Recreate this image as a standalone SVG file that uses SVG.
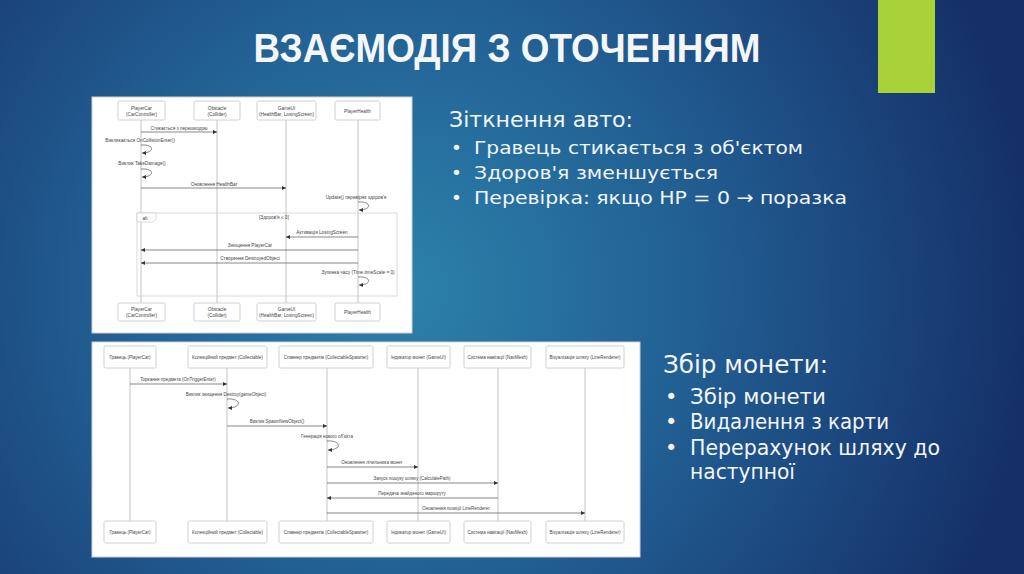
<svg xmlns="http://www.w3.org/2000/svg" width="1024" height="574" viewBox="0 0 1024 574">
<defs>
<radialGradient id="bg" cx="400" cy="290" r="640" gradientUnits="userSpaceOnUse">
<stop offset="0" stop-color="#2c82ab"/>
<stop offset="0.45" stop-color="#226094"/>
<stop offset="1" stop-color="#152f68"/>
</radialGradient>
<marker id="ah" viewBox="0 0 6 6" refX="6" refY="3" markerWidth="4" markerHeight="4" markerUnits="userSpaceOnUse" orient="auto">
<path d="M0,0 L6,3 L0,6 z" fill="#333"/>
</marker>
<style>
.slide{font-family:"DejaVu Sans","Liberation Sans",sans-serif;fill:#f2f5f9}
.head{font-size:20.5px}
.bul{font-size:18.5px}
.head2{font-size:24px}
.bul2{font-size:21px}
.box{fill:#fff;stroke:#c4c4c4;stroke-width:0.8}
.life{stroke:#b5b5b5;stroke-width:0.8;fill:none}
.msg{stroke:#555;stroke-width:0.7;fill:none}
.lt{font-family:"Liberation Sans","DejaVu Sans",sans-serif;font-size:4.7px;fill:#444;text-anchor:middle}
.bt{font-family:"Liberation Sans","DejaVu Sans",sans-serif;font-size:4.5px;fill:#444;text-anchor:middle}
</style>
</defs>
<rect width="1024" height="574" fill="url(#bg)"/>
<rect x="878" y="0" width="57" height="93" fill="#a9d13a"/>
<text x="507" y="62" text-anchor="middle" font-family="Liberation Sans, sans-serif" font-weight="bold" font-size="40" fill="#f4f6f8" textLength="507" lengthAdjust="spacingAndGlyphs">ВЗАЄМОДІЯ З ОТОЧЕННЯМ</text>

<!-- right text -->
<g class="slide">
<text class="head" x="449" y="127" textLength="184" lengthAdjust="spacingAndGlyphs">Зіткнення авто:</text>
<text class="bul" x="451" y="154">•</text>
<text class="bul" x="474" y="154" textLength="329" lengthAdjust="spacingAndGlyphs">Гравець стикається з об'єктом</text>
<text class="bul" x="451" y="179">•</text>
<text class="bul" x="474" y="179" textLength="244" lengthAdjust="spacingAndGlyphs">Здоров'я зменшується</text>
<text class="bul" x="451" y="204">•</text>
<text class="bul" x="474" y="204" textLength="373" lengthAdjust="spacingAndGlyphs">Перевірка: якщо HP = 0 → поразка</text>
<text class="head2" x="663" y="373" textLength="165" lengthAdjust="spacingAndGlyphs">Збір монети:</text>
<text class="bul2" x="665" y="404">•</text>
<text class="bul2" x="690" y="404" textLength="136" lengthAdjust="spacingAndGlyphs">Збір монети</text>
<text class="bul2" x="665" y="429">•</text>
<text class="bul2" x="690" y="429" textLength="199" lengthAdjust="spacingAndGlyphs">Видалення з карти</text>
<text class="bul2" x="665" y="455">•</text>
<text class="bul2" x="690" y="455" textLength="250" lengthAdjust="spacingAndGlyphs">Перерахунок шляху до</text>
<text class="bul2" x="690" y="479" textLength="105" lengthAdjust="spacingAndGlyphs">наступної</text>
</g>

<!-- top diagram -->
<rect x="92" y="97" width="320" height="236" fill="#fff" stroke="#d0d0d0" stroke-width="1"/>
<g id="t-playercar">
<line class="life" x1="141" y1="120" x2="141" y2="303"/>
<rect class="box" x="118" y="101" width="47" height="19" rx="1.5"/>
<text class="lt" x="141.5" y="109.5">PlayerCar</text><text class="lt" x="141.5" y="115.5">(CarController)</text>
<rect class="box" x="118" y="303" width="47" height="18" rx="1.5"/>
<text class="lt" x="141.5" y="311">PlayerCar</text><text class="lt" x="141.5" y="317">(CarController)</text>
</g>
<g id="t-obstacle">
<line class="life" x1="217" y1="120" x2="217" y2="303"/>
<rect class="box" x="194" y="101" width="46" height="19" rx="1.5"/>
<text class="lt" x="217" y="109.5">Obstacle</text><text class="lt" x="217" y="115.5">(Collider)</text>
<rect class="box" x="194" y="303" width="46" height="18" rx="1.5"/>
<text class="lt" x="217" y="311">Obstacle</text><text class="lt" x="217" y="317">(Collider)</text>
</g>
<g id="t-gameui">
<line class="life" x1="286" y1="120" x2="286" y2="303"/>
<rect class="box" x="257" y="101" width="59" height="19" rx="1.5"/>
<text class="lt" x="286.5" y="109.5">GameUI</text><text class="lt" x="286.5" y="115.5">(HealthBar, LosingScreen)</text>
<rect class="box" x="257" y="303" width="59" height="18" rx="1.5"/>
<text class="lt" x="286.5" y="311">GameUI</text><text class="lt" x="286.5" y="317">(HealthBar, LosingScreen)</text>
</g>
<g id="t-playerhealth">
<line class="life" x1="358" y1="120" x2="358" y2="303"/>
<rect class="box" x="335" y="101" width="45" height="19" rx="1.5"/>
<text class="lt" x="357.5" y="112.5">PlayerHealth</text>
<rect class="box" x="335" y="303" width="45" height="18" rx="1.5"/>
<text class="lt" x="357.5" y="314">PlayerHealth</text>
</g>
<g id="t-alt">
<rect x="137" y="213" width="260" height="83" fill="none" stroke="#c8c8c8" stroke-width="0.7"/>
<path d="M137,213 H156 V219 L153,222 H137 Z" fill="#fff" stroke="#c8c8c8" stroke-width="0.7"/>
<text class="lt" x="145" y="219.5">alt</text>
<text class="lt" x="259" y="219" style="text-anchor:start">[Здоров'я ≤ 0]</text>
</g>
<g id="t-connectors">
<line class="msg" x1="141" y1="132" x2="217" y2="132" marker-end="url(#ah)"/>
<text class="lt" x="179" y="129.5">Стикається з перешкодою</text>
<text class="lt" x="140" y="141.5">Викликається OnCollisionEnter()</text>
<path class="msg" d="M141,145 C155,144 155,153 142,153" marker-end="url(#ah)"/>
<text class="lt" x="142" y="165">Виклик TakeDamage()</text>
<path class="msg" d="M141,169 C155,168 155,177 142,177" marker-end="url(#ah)"/>
<line class="msg" x1="141" y1="188" x2="286" y2="188" marker-end="url(#ah)"/>
<text class="lt" x="214" y="185.5">Оновлення HealthBar</text>
<text class="lt" x="356" y="198.5">Update() перевіряє здоров'я</text>
<path class="msg" d="M358,202 C372,201 372,210 359,210" marker-end="url(#ah)"/>
<line class="msg" x1="358" y1="237" x2="286" y2="237" marker-end="url(#ah)"/>
<text class="lt" x="322" y="234">Активація LosingScreen</text>
<line class="msg" x1="358" y1="250" x2="141" y2="250" marker-end="url(#ah)"/>
<text class="lt" x="250" y="247">Знищення PlayerCar</text>
<line class="msg" x1="358" y1="263" x2="141" y2="263" marker-end="url(#ah)"/>
<text class="lt" x="250" y="260">Створення DestroyedObject</text>
<text class="lt" x="358" y="273.5">Зупинка часу (Time.timeScale = 0)</text>
<path class="msg" d="M358,277 C372,276 372,285 359,285" marker-end="url(#ah)"/>
</g>

<!-- bottom diagram -->
<rect x="92" y="342" width="548" height="215" fill="#fff" stroke="#d0d0d0" stroke-width="1"/>
<g id="b-player">
<line class="life" x1="130" y1="368" x2="130" y2="521"/>
<rect class="box" x="104" y="346" width="52" height="22" rx="1.5"/>
<text class="bt" x="130" y="358.5">Гравець (PlayerCar)</text>
<rect class="box" x="104" y="521" width="52" height="22" rx="1.5"/>
<text class="bt" x="130" y="533.5">Гравець (PlayerCar)</text>
</g>
<g id="b-collectable">
<line class="life" x1="227" y1="368" x2="227" y2="521"/>
<rect class="box" x="188" y="346" width="79" height="22" rx="1.5"/>
<text class="bt" x="227.5" y="358.5">Колекційний предмет (Collectable)</text>
<rect class="box" x="188" y="521" width="79" height="22" rx="1.5"/>
<text class="bt" x="227.5" y="533.5">Колекційний предмет (Collectable)</text>
</g>
<g id="b-spawner">
<line class="life" x1="327" y1="368" x2="327" y2="521"/>
<rect class="box" x="279" y="346" width="94" height="22" rx="1.5"/>
<text class="bt" x="326" y="358.5">Спавнер предметів (CollectableSpawner)</text>
<rect class="box" x="279" y="521" width="94" height="22" rx="1.5"/>
<text class="bt" x="326" y="533.5">Спавнер предметів (CollectableSpawner)</text>
</g>
<g id="b-gameui">
<line class="life" x1="418" y1="368" x2="418" y2="521"/>
<rect class="box" x="387" y="346" width="63" height="22" rx="1.5"/>
<text class="bt" x="418.5" y="358.5">Індикатор монет (GameUI)</text>
<rect class="box" x="387" y="521" width="63" height="22" rx="1.5"/>
<text class="bt" x="418.5" y="533.5">Індикатор монет (GameUI)</text>
</g>
<g id="b-navmesh">
<line class="life" x1="498" y1="368" x2="498" y2="521"/>
<rect class="box" x="464" y="346" width="67" height="22" rx="1.5"/>
<text class="bt" x="497.5" y="358.5">Система навігації (NavMesh)</text>
<rect class="box" x="464" y="521" width="67" height="22" rx="1.5"/>
<text class="bt" x="497.5" y="533.5">Система навігації (NavMesh)</text>
</g>
<g id="b-linerenderer">
<line class="life" x1="585" y1="368" x2="585" y2="521"/>
<rect class="box" x="546" y="346" width="78" height="22" rx="1.5"/>
<text class="bt" x="585" y="358.5">Візуалізація шляху (LineRenderer)</text>
<rect class="box" x="546" y="521" width="78" height="22" rx="1.5"/>
<text class="bt" x="585" y="533.5">Візуалізація шляху (LineRenderer)</text>
</g>
<g id="b-connectors">
<line class="msg" x1="130" y1="384" x2="227" y2="384" marker-end="url(#ah)"/>
<text class="bt" x="178" y="381">Торкання предмета (OnTriggerEnter)</text>
<text class="bt" x="226" y="395.5">Виклик знищення Destroy(gameObject)</text>
<path class="msg" d="M227,399 C242,398 242,408 228,408" marker-end="url(#ah)"/>
<line class="msg" x1="227" y1="426" x2="327" y2="426" marker-end="url(#ah)"/>
<text class="bt" x="277" y="423">Виклик SpawnNewObject()</text>
<text class="bt" x="327" y="437.5">Генерація нового об'єкта</text>
<path class="msg" d="M327,441 C342,440 342,450 328,450" marker-end="url(#ah)"/>
<line class="msg" x1="327" y1="467" x2="418" y2="467" marker-end="url(#ah)"/>
<text class="bt" x="372" y="464">Оновлення лічильника монет</text>
<line class="msg" x1="327" y1="483" x2="498" y2="483" marker-end="url(#ah)"/>
<text class="bt" x="412" y="480">Запуск пошуку шляху (CalculatePath)</text>
<line class="msg" x1="498" y1="498" x2="327" y2="498" marker-end="url(#ah)"/>
<text class="bt" x="412" y="495">Передача знайденого маршруту</text>
<line class="msg" x1="327" y1="513" x2="585" y2="513" marker-end="url(#ah)"/>
<text class="bt" x="456" y="510">Оновлення позиції LineRenderer</text>
</g>
</svg>
